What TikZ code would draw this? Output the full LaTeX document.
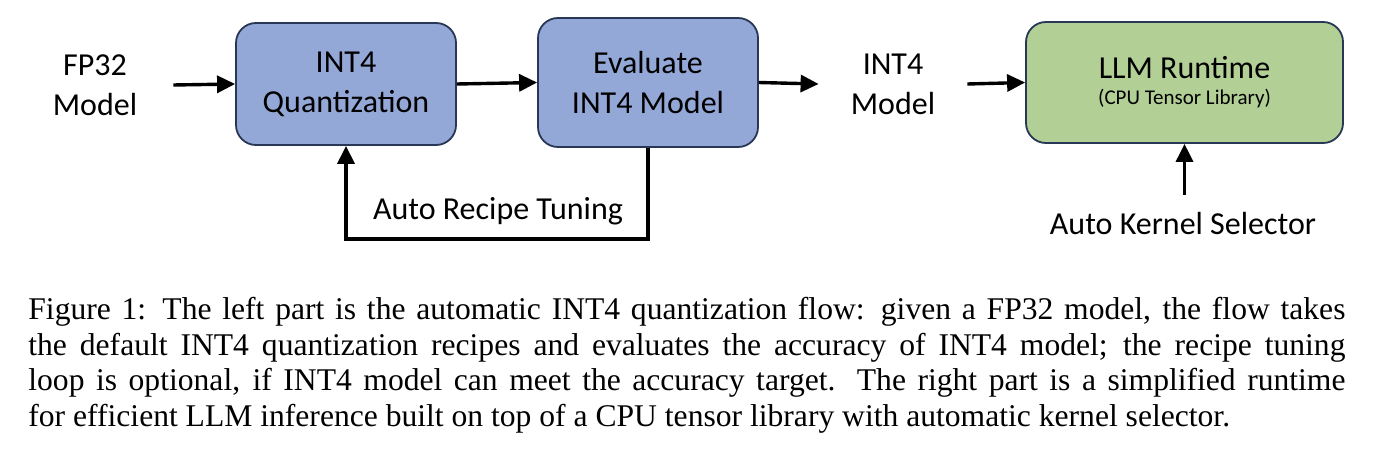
\documentclass[tikz,border=0pt]{standalone}
\usepackage{fontspec}
\setmainfont{Carlito}
\newfontfamily\capfont{Liberation Serif}
\usetikzlibrary{arrows.meta}
\definecolor{boxblue}{RGB}{148,168,216}
\definecolor{boxgreen}{RGB}{178,208,150}
\definecolor{boxline}{RGB}{40,55,85}
\begin{document}
\begin{tikzpicture}[x=0.5pt,y=-0.5pt,
    blk/.style={draw=boxline,line width=0.9pt,rounded corners=10pt,align=center,font=\fontsize{16}{20}\selectfont},
    lbl/.style={align=center,font=\fontsize{16}{20}\selectfont},
    arr/.style={-{Triangle[length=9pt,width=8.5pt]},line width=1.7pt}]
    \useasboundingbox[fill=white] (0,0) rectangle (1384,460);
    \node[lbl,minimum width=78pt] (fp) at (95,85) {FP32\\Model};
    \node[blk,fill=boxblue,minimum width=110pt,minimum height=61pt] (quant) at (346,84) {INT4\\Quantization};
    \node[blk,fill=boxblue,minimum width=110pt,minimum height=64.5pt] (eval) at (648,82.5) {Evaluate\\INT4 Model};
    \node[lbl,minimum width=74pt] (int) at (893,84) {INT4\\Model};
    \node[blk,fill=boxgreen,minimum width=158.5pt,minimum height=60.5pt] (rt) at (1184.5,82.5) {LLM Runtime\\[-7pt]{\fontsize{10.5}{13}\selectfont(CPU Tensor Library)}};
    \node[lbl] (tune) at (498,211) {Auto Recipe Tuning};
    \node[lbl] (kern) at (1183,224) {Auto Kernel Selector};
    \coordinate (kin) at (1184.5,195);
    \draw[arr] (fp.east)--(quant.west);
    \draw[arr] (quant.east)--(eval.west);
    \draw[arr] (eval.east)--(int.west);
    \draw[arr] (int.east)--(rt.west);
    \draw[arr] (eval.south)--++(0,91)-|(quant.south);
    \draw[arr] (kin)--(rt.south);
    \node[anchor=north west,text width=658.5pt,align=justify,inner sep=0pt,font=\capfont\fontsize{15.8}{17.75}\selectfont] (cap) at (28,297)
    {Figure 1: The left part is the automatic INT4 quantization flow: given a FP32 model, the flow takes\linebreak
    the default INT4 quantization recipes and evaluates the accuracy of INT4 model; the recipe tuning\linebreak
    loop is optional, if INT4 model can meet the accuracy target. The right part is a simplified runtime\linebreak
    for efficient LLM inference built on top of a CPU tensor library with automatic kernel selector.};
\end{tikzpicture}
\end{document}
